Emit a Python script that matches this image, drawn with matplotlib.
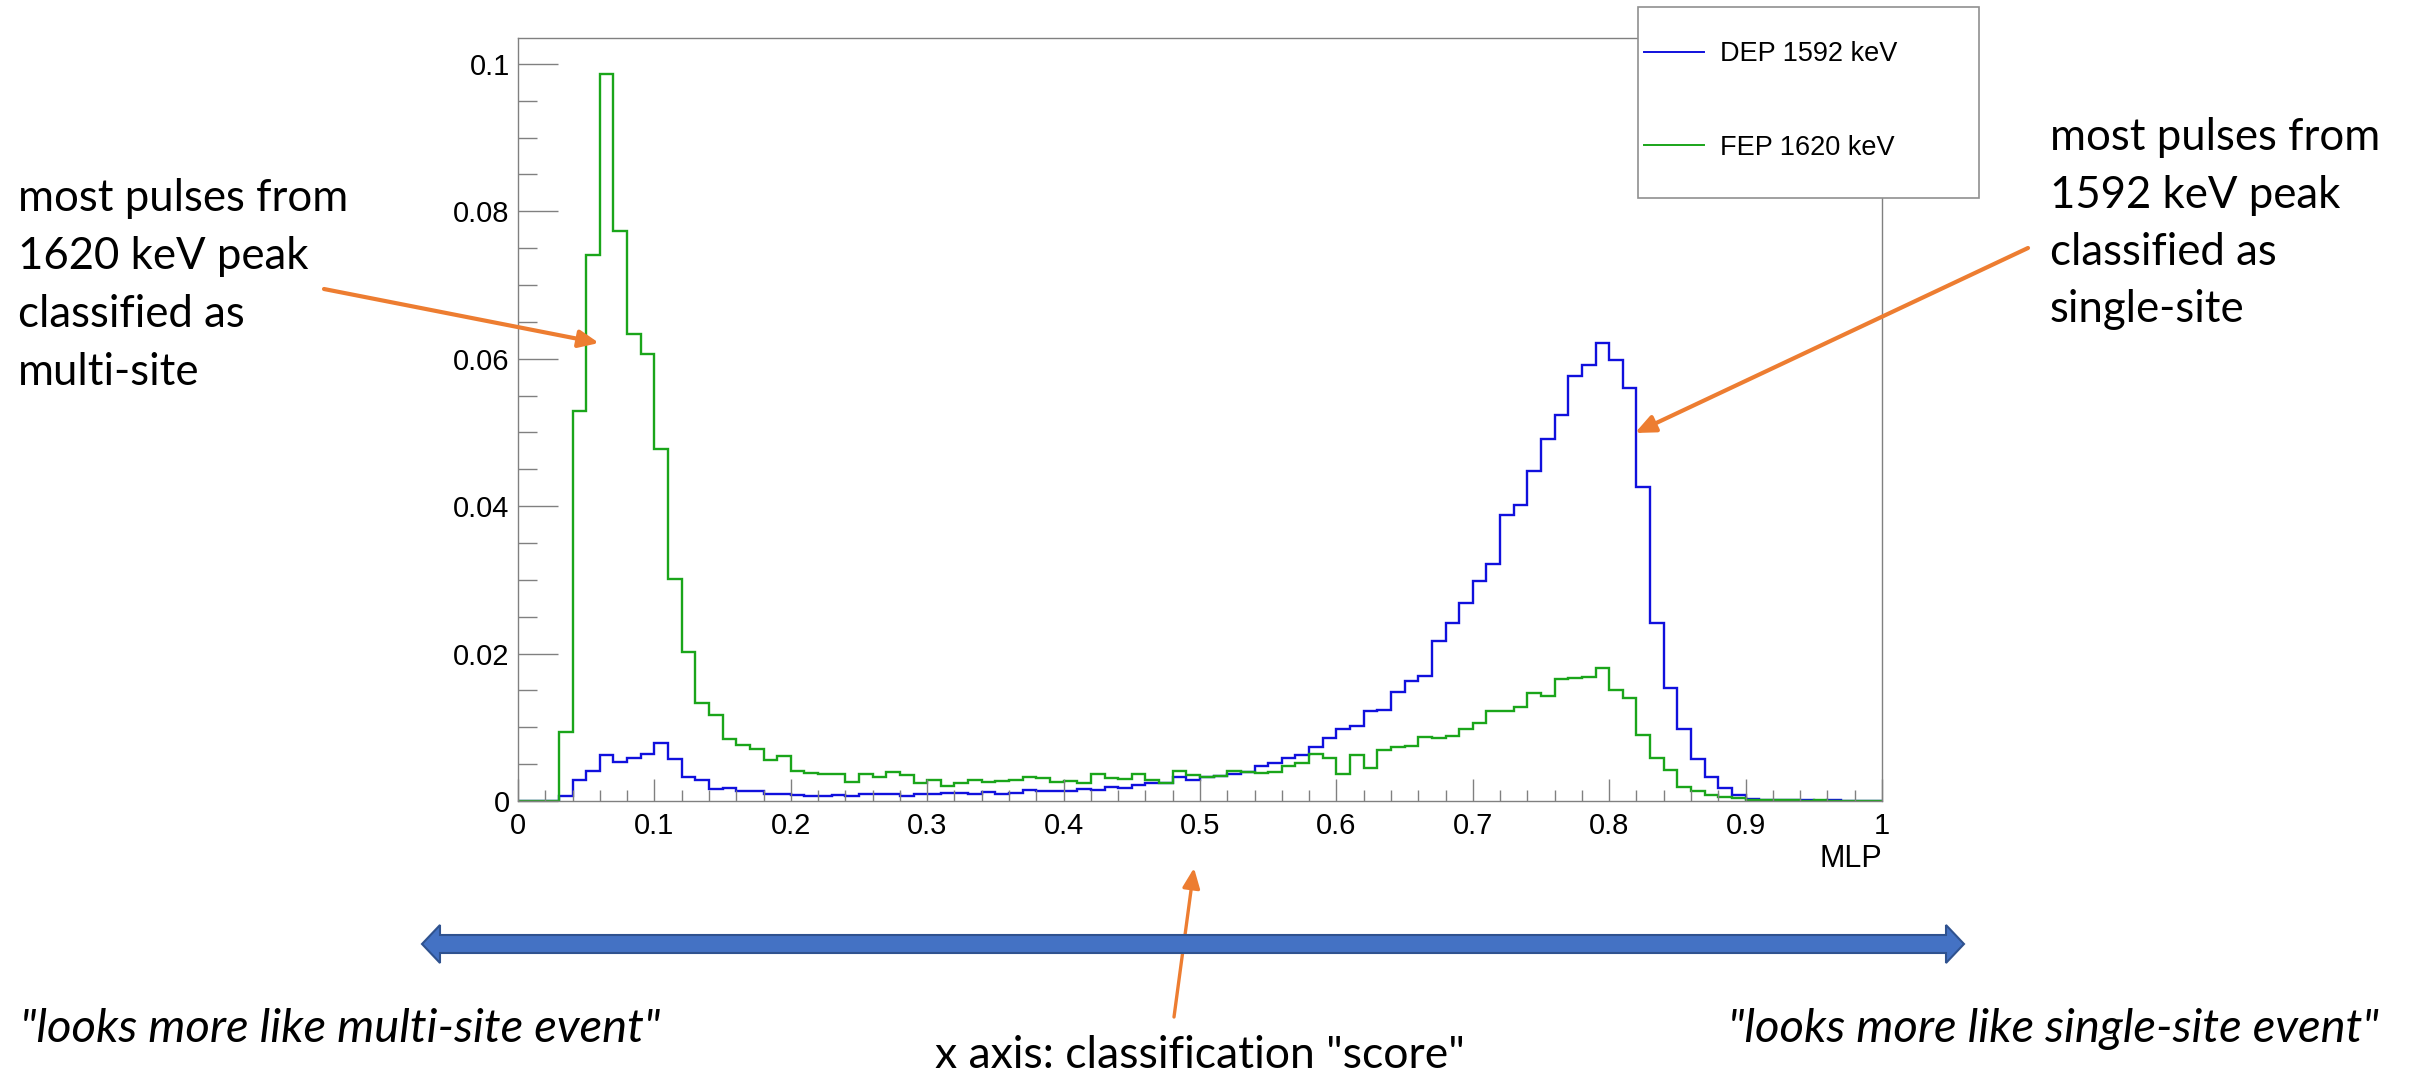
import numpy as np
import matplotlib
matplotlib.use("Agg")
import matplotlib.pyplot as plt
from matplotlib.patches import Polygon, Rectangle, ArrowStyle
from matplotlib.ticker import FixedLocator, MultipleLocator

# MLP output, 100 bins on [0, 1], normalised
n_bins = 100
x_min, x_max = 0.0, 1.0

dep_1592 = [
    0, 0, 0, 0.0007, 0.0028, 0.0041, 0.0063, 0.0053, 0.0058, 0.0064,
    0.0079, 0.0057, 0.0033, 0.0028, 0.0016, 0.0017, 0.0013, 0.0013, 0.0010, 0.0009,
    0.0008, 0.0007, 0.0007, 0.0008, 0.0007, 0.0009, 0.0009, 0.0009, 0.0007, 0.0009,
    0.0009, 0.0011, 0.0011, 0.0010, 0.0012, 0.0010, 0.0011, 0.0015, 0.0014, 0.0014,
    0.0013, 0.0016, 0.0015, 0.0019, 0.0017, 0.0022, 0.0025, 0.0025, 0.0032, 0.0028,
    0.0032, 0.0034, 0.0037, 0.0040, 0.0047, 0.0052, 0.0059, 0.0062, 0.0073, 0.0085,
    0.0097, 0.0102, 0.0122, 0.0123, 0.0148, 0.0163, 0.0170, 0.0217, 0.0241, 0.0269,
    0.0298, 0.0321, 0.0388, 0.0401, 0.0447, 0.0491, 0.0523, 0.0577, 0.0592, 0.0621,
    0.0598, 0.0560, 0.0426, 0.0241, 0.0153, 0.0097, 0.0057, 0.0033, 0.0018, 0.0008,
    0.0003, 0.0002, 0.0001, 0.0001, 0.0001, 0.0, 0.0001, 0.0, 0.0, 0.0,
]
fep_1620 = [
    0, 0, 0, 0.0093, 0.0529, 0.0740, 0.0986, 0.0773, 0.0633, 0.0607,
    0.0478, 0.0301, 0.0202, 0.0133, 0.0116, 0.0084, 0.0076, 0.0071, 0.0056, 0.0061,
    0.0041, 0.0038, 0.0037, 0.0036, 0.0026, 0.0036, 0.0032, 0.0039, 0.0035, 0.0024,
    0.0029, 0.0020, 0.0024, 0.0029, 0.0026, 0.0027, 0.0028, 0.0033, 0.0031, 0.0026,
    0.0027, 0.0024, 0.0037, 0.0031, 0.0030, 0.0036, 0.0029, 0.0024, 0.0041, 0.0035,
    0.0033, 0.0034, 0.0041, 0.0039, 0.0038, 0.0039, 0.0047, 0.0052, 0.0064, 0.0059,
    0.0037, 0.0063, 0.0045, 0.0069, 0.0073, 0.0074, 0.0087, 0.0085, 0.0088, 0.0097,
    0.0106, 0.0122, 0.0122, 0.0127, 0.0146, 0.0142, 0.0165, 0.0167, 0.0168, 0.0181,
    0.0150, 0.0140, 0.0089, 0.0058, 0.0042, 0.0019, 0.0013, 0.0008, 0.0005, 0.0004,
    0.0002, 0.0001, 0.0001, 0.0001, 0.0, 0.0001, 0.0, 0.0, 0.0, 0.0,
]
labels = ["DEP 1592 keV", "FEP 1620 keV"]

x_ticks = [0, 0.1, 0.2, 0.3, 0.4, 0.5, 0.6, 0.7, 0.8, 0.9, 1]
x_tick_labels = ["0", "0.1", "0.2", "0.3", "0.4", "0.5", "0.6", "0.7", "0.8", "0.9", "1"]
y_ticks = [0, 0.02, 0.04, 0.06, 0.08, 0.1]
y_tick_labels = ["0", "0.02", "0.04", "0.06", "0.08", "0.1"]

W, H = 2420, 1073
ORANGE = "#ED7D31"
ROOT_FONT = "Liberation Sans"
SLIDE_FONT = "Lato"


# pixel (from top-left) -> figure fraction
def fx(x):
    return x / W


def fy(y):
    return 1 - y / H


fig = plt.figure(figsize=(W / 100, H / 100), dpi=100)
ax = fig.add_axes([fx(518), fy(801), fx(1882) - fx(518), fy(38) - fy(801)])

edges = np.linspace(x_min, x_max, n_bins + 1)
h1 = ax.stairs(dep_1592, edges, color="#1010dd", lw=1.7, baseline=None)
h2 = ax.stairs(fep_1620, edges, color="#1aa51a", lw=1.7, baseline=None)

ax.set_xlim(0, 1)
ax.set_ylim(0, 0.1035)
for s in ax.spines.values():
    s.set_color("#808080")
    s.set_linewidth(1.0)

ax.xaxis.set_major_locator(FixedLocator(x_ticks))
ax.set_xticklabels(x_tick_labels)
ax.xaxis.set_minor_locator(MultipleLocator(0.02))
ax.yaxis.set_major_locator(FixedLocator(y_ticks))
ax.set_yticklabels(y_tick_labels)
ax.yaxis.set_minor_locator(MultipleLocator(0.005))

ax.tick_params(axis="both", which="both", direction="in", color="#808080", width=1,
               labelsize=21, labelfontfamily=ROOT_FONT)
ax.tick_params(axis="x", which="major", length=16, pad=8)
ax.tick_params(axis="x", which="minor", length=8)
ax.tick_params(axis="y", which="major", length=29, pad=6)
ax.tick_params(axis="y", which="minor", length=14)

fig.text(fx(1882), fy(867), "MLP", ha="right", va="baseline", fontsize=22, family=ROOT_FONT)

# legend box
fig.add_artist(Rectangle((fx(1638), fy(198)), fx(1979) - fx(1638), fy(7) - fy(198),
                         transform=fig.transFigure, facecolor="white",
                         edgecolor="#909090", lw=1.2, zorder=3))
leg = fig.legend([h1, h2], labels, loc="center left",
                 bbox_to_anchor=(fx(1644), fy(101)), frameon=False,
                 prop={"family": ROOT_FONT, "size": 19.5}, handlelength=2.2,
                 handletextpad=0.6, labelspacing=2.5, borderpad=0, borderaxespad=0)
leg.set_zorder(4)
for line in leg.get_lines():
    line.set_linewidth(1.4)

# side notes
left_lines = ["most pulses from", "1620 keV peak", "classified as", "multi-site"]
for i, t in enumerate(left_lines):
    fig.text(fx(18), fy(211 + 58 * i), t, fontsize=31.5, family=SLIDE_FONT, va="baseline")
right_lines = ["most pulses from", "1592 keV peak", "classified as", "single-site"]
for i, t in enumerate(right_lines):
    fig.text(fx(2050), fy(150 + 57.5 * i), t, fontsize=31.5, family=SLIDE_FONT, va="baseline")

head = ArrowStyle("-|>", head_length=0.8, head_width=0.35)
ax.annotate("", xy=(599, H - 343), xytext=(324, H - 289), xycoords="figure pixels",
            arrowprops=dict(arrowstyle=head, color=ORANGE, lw=3, mutation_scale=15,
                            shrinkA=0, shrinkB=0))
ax.annotate("", xy=(1635, H - 433), xytext=(2028, H - 248), xycoords="figure pixels",
            arrowprops=dict(arrowstyle=head, color=ORANGE, lw=3, mutation_scale=15,
                            shrinkA=0, shrinkB=0))
ax.annotate("", xy=(1194, H - 868), xytext=(1174, H - 1017), xycoords="figure pixels",
            arrowprops=dict(arrowstyle=head, color=ORANGE, lw=2.4, mutation_scale=15,
                            shrinkA=0, shrinkB=0))

# big double arrow under the axis
pts = [(422, 944), (440, 925), (440, 935), (1946, 935), (1946, 925), (1964, 944),
       (1946, 963), (1946, 953), (440, 953), (440, 963)]
fig.add_artist(Polygon([(fx(a), fy(b)) for a, b in pts], closed=True,
                       transform=fig.transFigure, facecolor="#4472C4",
                       edgecolor="#2F528F", lw=1.5))

fig.text(fx(20), fy(1042), "\"looks more like multi-site event\"", fontsize=34,
         family=SLIDE_FONT, style="italic", va="baseline")
fig.text(fx(1728), fy(1042), "\"looks more like single-site event\"", fontsize=34,
         family=SLIDE_FONT, style="italic", va="baseline")
fig.text(fx(1200), fy(1068), "x axis: classification \"score\"", fontsize=32,
         family=SLIDE_FONT, ha="center", va="baseline")

fig.savefig("out.png", dpi=100)
